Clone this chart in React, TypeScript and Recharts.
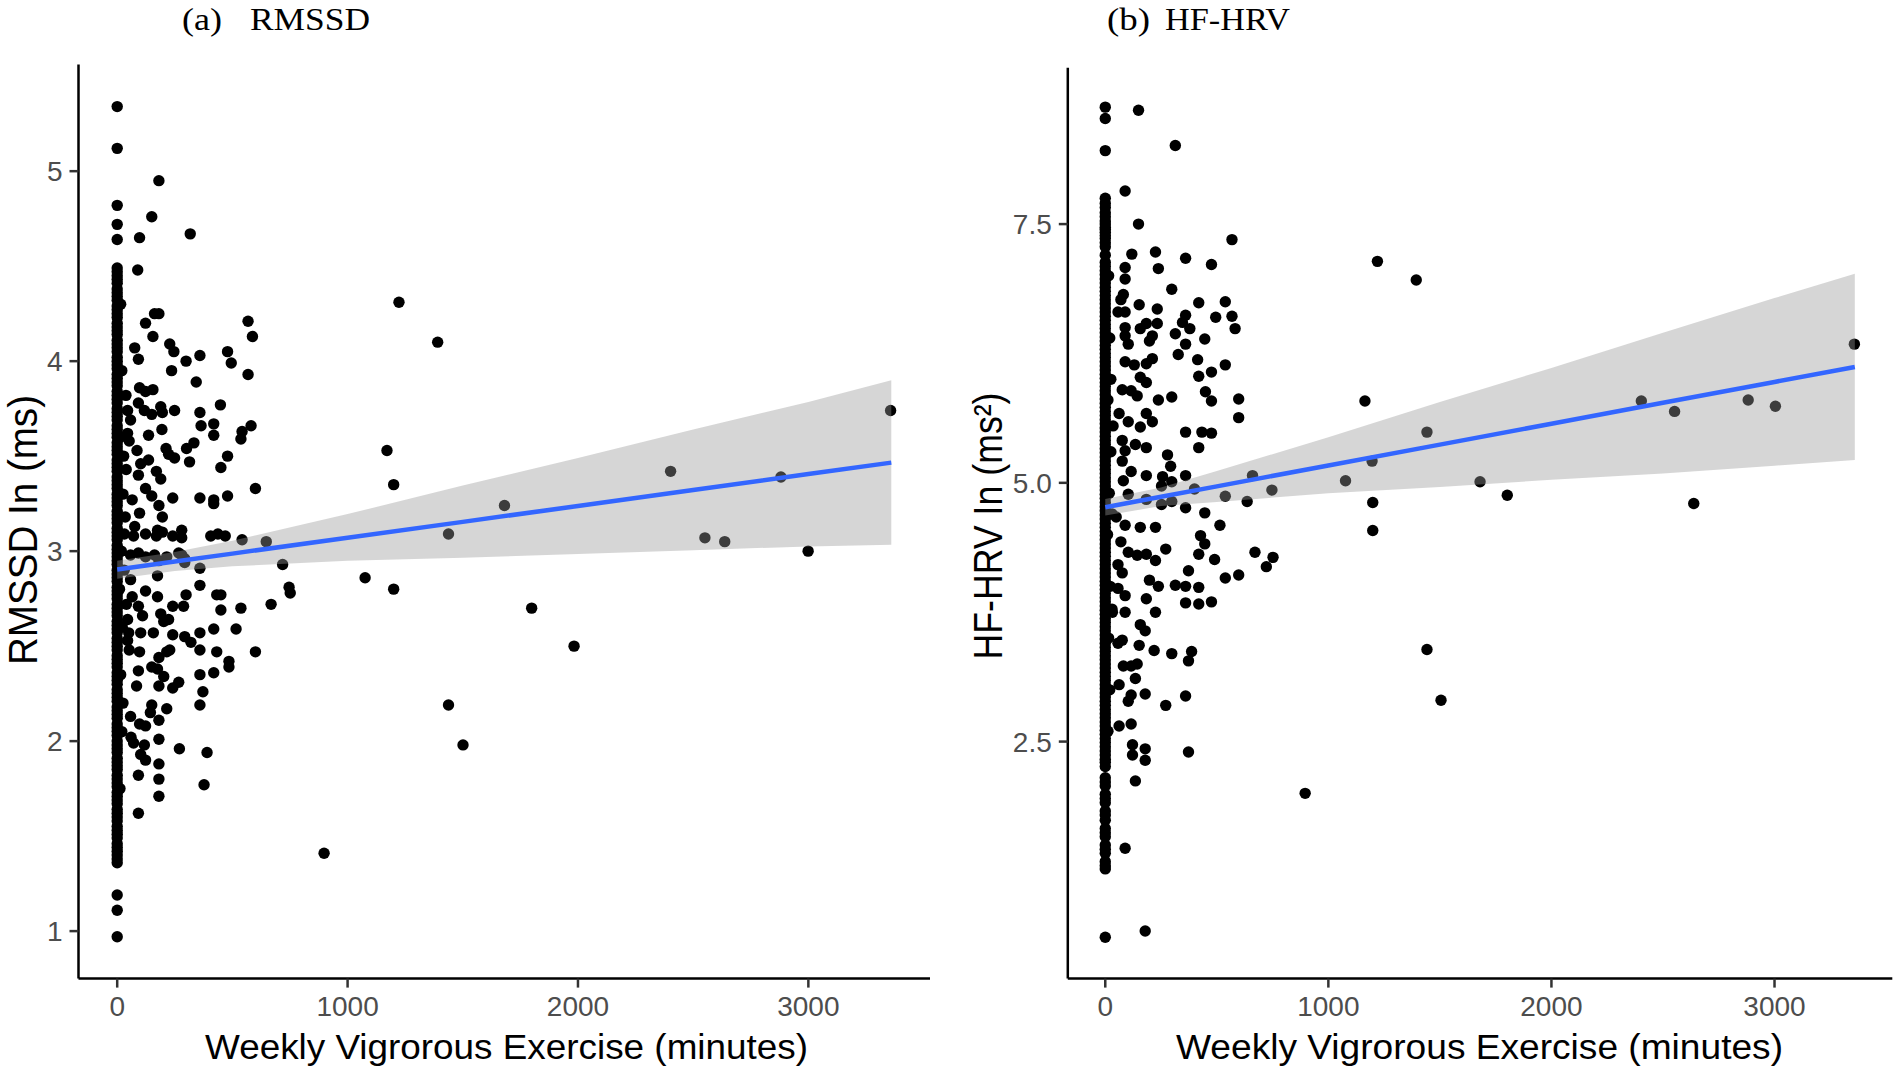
import React from 'react';
import { ComposedChart, Scatter, Area, Line, XAxis, YAxis } from 'recharts';

// shared x axis
const xTicks = [0, 1000, 2000, 3000];
const xDomain: [number, number] = [-168, 3528];

// (a) RMSSD
const rmssdTicks = [1, 2, 3, 4, 5];
const rmssdDomain: [number, number] = [0.75, 5.562];
const rmssdAtZero = [
  5.34, 5.12, 4.82, 4.72, 4.64, 4.49, 4.45, 4.41, 4.36, 4.32, 4.27, 4.23, 4.18, 4.14, 4.09, 4.05,
  4.0, 3.96, 3.91, 3.87, 3.82, 3.78, 3.73, 3.69, 3.64, 3.6, 3.55, 3.51, 3.46, 3.42, 3.37, 3.33,
  3.28, 3.24, 3.19, 3.15, 3.1, 3.06, 3.01, 2.97, 2.93, 2.88, 2.84, 2.79, 2.75, 2.7, 2.66, 2.61,
  2.57, 2.52, 2.48, 2.43, 2.39, 2.34, 2.3, 2.25, 2.21, 2.16, 2.12, 2.07, 2.03, 1.98, 1.94, 1.89,
  1.85, 1.8, 1.76, 1.71, 1.67, 1.62, 1.58, 1.53, 1.49, 1.44, 1.4, 1.36, 1.19, 1.11, 0.97,
];
const rmssdAtZeroFill = [
  4.47, 4.43, 4.38, 4.34, 4.29, 4.25, 4.2, 4.16, 4.11, 4.07, 4.02, 3.98, 3.93, 3.89, 3.84, 3.8,
  3.75, 3.71, 3.66, 3.62, 3.57, 3.53, 3.48, 3.44, 3.39, 3.35, 3.3, 3.26, 3.21, 3.17, 3.12, 3.08,
  3.03, 2.99, 2.95, 2.9, 2.86, 2.81, 2.77, 2.72, 2.68, 2.63, 2.59, 2.54, 2.5, 2.45, 2.41, 2.36,
  2.32, 2.27, 2.23, 2.18, 2.14, 2.09, 2.05, 2.0, 1.96, 1.91, 1.87, 1.82, 1.78, 1.73, 1.69, 1.64,
  1.6, 1.55, 1.51, 1.46, 1.42, 1.38,
];
const rmssdActive: [number, number][] = [
  [181, 4.95], [150, 4.76], [97, 4.65], [317, 4.67], [89, 4.48],
  [162, 4.25], [181, 4.25], [123, 4.2], [155, 4.13], [568, 4.21], [587, 4.13],
  [76, 4.07], [228, 4.09], [246, 4.05], [92, 4.01], [359, 4.03], [479, 4.05], [495, 3.99], [299, 4.0],
  [236, 3.95], [568, 3.93], [343, 3.89], [97, 3.86], [123, 3.84], [155, 3.85], [92, 3.78], [118, 3.74],
  [189, 3.76], [196, 3.73], [249, 3.74], [448, 3.77], [45, 3.74], [58, 3.69], [359, 3.73], [364, 3.66],
  [150, 3.72], [136, 3.61], [194, 3.64], [419, 3.67], [419, 3.61], [542, 3.63], [537, 3.59], [581, 3.66],
  [45, 3.62], [52, 3.58], [333, 3.57], [212, 3.54], [223, 3.51], [301, 3.54], [314, 3.47], [86, 3.53],
  [102, 3.46], [249, 3.49], [479, 3.5], [136, 3.48], [39, 3.43], [170, 3.42], [189, 3.38], [450, 3.44],
  [92, 3.4], [123, 3.33], [150, 3.29], [600, 3.33], [359, 3.28], [419, 3.27], [479, 3.29], [419, 3.25],
  [241, 3.28], [65, 3.27], [97, 3.2], [76, 3.13], [181, 3.24], [196, 3.18], [280, 3.11], [175, 3.11],
  [31, 3.09], [71, 3.08], [123, 3.09], [170, 3.08], [196, 3.1], [241, 3.08], [280, 3.07], [406, 3.08],
  [437, 3.09], [469, 3.08], [542, 3.06], [647, 3.05],
  [58, 2.98], [92, 2.99], [123, 2.97], [162, 2.98], [181, 2.95], [215, 2.97], [267, 2.99], [293, 2.96],
  [718, 2.93], [359, 2.91], [280, 2.98], [293, 2.94], [175, 2.87], [58, 2.85], [359, 2.82], [123, 2.79],
  [746, 2.81], [751, 2.78], [432, 2.77], [450, 2.77], [299, 2.77], [175, 2.76], [65, 2.76], [668, 2.72],
  [537, 2.7], [450, 2.69], [241, 2.71], [288, 2.71], [92, 2.71], [110, 2.66], [189, 2.67], [202, 2.63],
  [45, 2.64], [223, 2.64], [516, 2.59], [359, 2.57], [419, 2.59], [157, 2.57], [50, 2.57], [241, 2.56],
  [293, 2.55], [320, 2.52], [45, 2.53], [102, 2.57], [600, 2.47], [359, 2.48], [432, 2.47], [228, 2.48],
  [215, 2.47], [52, 2.48], [97, 2.47], [181, 2.44], [485, 2.42], [485, 2.39], [150, 2.39], [175, 2.38],
  [359, 2.35], [419, 2.36], [92, 2.37], [202, 2.34], [372, 2.26], [241, 2.28], [267, 2.31], [84, 2.29],
  [181, 2.29], [359, 2.19], [215, 2.17], [150, 2.19], [144, 2.15], [58, 2.13], [97, 2.09], [123, 2.08],
  [181, 2.11], [60, 2.02], [71, 1.99], [181, 2.01], [118, 1.98], [102, 1.93], [123, 1.9], [270, 1.96],
  [390, 1.94], [181, 1.88], [92, 1.82], [181, 1.8], [377, 1.77], [181, 1.71], [92, 1.62],
  [15, 4.3], [20, 3.95], [12, 3.6], [25, 3.3], [18, 3.0], [10, 2.8], [22, 2.6], [15, 2.35], [20, 2.05],
  [12, 1.75], [28, 3.5], [30, 2.9], [25, 2.2], [35, 3.18], [40, 2.72], [38, 3.82],
  [1171, 3.53], [1200, 3.35], [1681, 3.24], [2402, 3.42], [2881, 3.39], [3357, 3.74], [1223, 4.31],
  [1391, 4.1], [1438, 3.09], [2551, 3.07], [2637, 3.05], [2999, 3.0], [1076, 2.86], [1200, 2.8],
  [1799, 2.7], [1983, 2.5], [1438, 2.19], [1501, 1.98], [898, 1.41],
];

// (b) HF-HRV
const hfTicks = [2.5, 5.0, 7.5];
const hfDomain: [number, number] = [0.21, 9.01];
const hfAtZero = [
  8.63, 8.52, 8.21, 7.75, 7.66, 7.61, 7.53, 7.47, 7.42, 7.36, 7.28, 7.13, 7.05, 6.97, 6.89, 6.81,
  6.73, 6.65, 6.57, 6.49, 6.41, 6.33, 6.25, 6.17, 6.09, 6.01, 5.93, 5.85, 5.77, 5.69, 5.61, 5.53,
  5.45, 5.37, 5.29, 5.21, 5.13, 5.05, 4.97, 4.89, 4.81, 4.73, 4.65, 4.57, 4.49, 4.41, 4.33, 4.25,
  4.17, 4.09, 4.01, 3.93, 3.85, 3.77, 3.69, 3.61, 3.53, 3.45, 3.37, 3.29, 3.21, 3.13, 3.05, 2.97,
  2.89, 2.81, 2.73, 2.65, 2.57, 2.49, 2.41, 2.33, 2.26, 2.15, 2.07, 1.99, 1.91, 1.83, 1.74, 1.66,
  1.58, 1.5, 1.42, 1.34, 1.27, 0.61,
];
const hfAtZeroFill = [
  7.7, 7.57, 7.5, 7.45, 7.39, 7.32, 7.2, 7.09, 7.01, 6.93, 6.85, 6.77, 6.69, 6.61, 6.53, 6.45,
  6.37, 6.29, 6.21, 6.13, 6.05, 5.97, 5.89, 5.81, 5.73, 5.65, 5.57, 5.49, 5.41, 5.33, 5.25, 5.17,
  5.09, 5.01, 4.93, 4.85, 4.77, 4.69, 4.61, 4.53, 4.45, 4.37, 4.29, 4.21, 4.13, 4.05, 3.97, 3.89,
  3.81, 3.73, 3.65, 3.57, 3.49, 3.41, 3.33, 3.25, 3.17, 3.09, 3.01, 2.93, 2.85, 2.77, 2.69, 2.61,
  2.53, 2.45, 2.37, 2.3, 2.11, 1.95, 1.79, 1.62, 1.46, 1.3,
];
const hfActive: [number, number][] = [
  [149, 8.6], [314, 8.26], [89, 7.82], [149, 7.5], [568, 7.35], [119, 7.21], [225, 7.23], [360, 7.17],
  [476, 7.11], [238, 7.07], [89, 7.08], [89, 6.97], [298, 6.87], [81, 6.82], [70, 6.77], [419, 6.74],
  [538, 6.75], [152, 6.72], [233, 6.68], [57, 6.65], [89, 6.65], [360, 6.62], [568, 6.61], [495, 6.6],
  [184, 6.54], [233, 6.54], [89, 6.5], [157, 6.49], [346, 6.55], [379, 6.49], [582, 6.49], [314, 6.44],
  [211, 6.42], [198, 6.37], [89, 6.42], [103, 6.34], [446, 6.39], [360, 6.34], [327, 6.24], [414, 6.19],
  [538, 6.14], [211, 6.2], [184, 6.15], [89, 6.17], [130, 6.14], [476, 6.07], [419, 6.03], [157, 6.02],
  [184, 5.97], [76, 5.9], [116, 5.89], [449, 5.88], [476, 5.79], [598, 5.81], [598, 5.63], [298, 5.83],
  [238, 5.8], [143, 5.84], [62, 5.67], [103, 5.59], [184, 5.67], [157, 5.54], [211, 5.59], [360, 5.49],
  [433, 5.49], [476, 5.48], [419, 5.34], [76, 5.41], [89, 5.31], [135, 5.37], [184, 5.34], [279, 5.27],
  [293, 5.16], [76, 5.21], [116, 5.11], [184, 5.07], [257, 5.06], [360, 5.07], [298, 5.01], [252, 4.97],
  [81, 5.02], [400, 4.94],
  [15, 7.0], [20, 6.4], [12, 5.8], [25, 5.3], [18, 4.9], [10, 4.5], [22, 4.0], [15, 3.5], [20, 3.0],
  [12, 2.6], [25, 6.0], [30, 4.7], [35, 5.55], [32, 3.75],
  [1164, 5.79], [1220, 7.14], [1394, 6.96], [1196, 5.21], [1442, 5.49], [1077, 5.02], [660, 5.07],
  [747, 4.93], [538, 4.87], [636, 4.82], [1680, 5.01], [1802, 4.88], [1199, 4.81], [2638, 4.8],
  [2403, 5.79], [2552, 5.69], [2882, 5.8], [3004, 5.74], [3358, 6.34], [1199, 4.54], [1442, 3.39],
  [1505, 2.9], [896, 2.0],
  [360, 4.76], [446, 4.71], [514, 4.59], [427, 4.49], [103, 4.89], [184, 4.84], [252, 4.79], [298, 4.82],
  [49, 4.67], [89, 4.59], [157, 4.57], [225, 4.57], [70, 4.43], [103, 4.33], [143, 4.3], [184, 4.31],
  [225, 4.25], [271, 4.36], [446, 4.41], [419, 4.31], [490, 4.26], [671, 4.33], [752, 4.28], [722, 4.19],
  [598, 4.11], [538, 4.08], [373, 4.15], [76, 4.13], [57, 4.21], [198, 4.06], [238, 4.0], [314, 4.01],
  [360, 4.0], [419, 3.99], [57, 3.98], [89, 3.91], [184, 3.88], [225, 3.75], [360, 3.84], [419, 3.83],
  [476, 3.85], [30, 3.78], [89, 3.75], [157, 3.63], [179, 3.57], [76, 3.48], [57, 3.45], [152, 3.43],
  [219, 3.38], [298, 3.35], [387, 3.37], [373, 3.28], [81, 3.23], [116, 3.23], [143, 3.25], [135, 3.11],
  [62, 3.05], [179, 2.96], [116, 2.95], [103, 2.89], [360, 2.94], [271, 2.85], [62, 2.65], [116, 2.67],
  [122, 2.47], [122, 2.37], [179, 2.43], [179, 2.32], [373, 2.4], [135, 2.12], [89, 1.47], [179, 0.67],
];

// lm fit and confidence band
const bandX = [0, 250, 500, 1000, 1500, 2000, 2500, 3000, 3360];
const rmssdFit = [2.903, 2.945, 2.987, 3.071, 3.154, 3.238, 3.322, 3.406, 3.466];
const rmssdUpper = [2.95, 2.995, 3.055, 3.195, 3.345, 3.49, 3.64, 3.785, 3.9];
const rmssdLower = [2.855, 2.895, 2.92, 2.95, 2.965, 2.985, 3.005, 3.025, 3.033];
const hfFit = [4.764, 4.865, 4.966, 5.168, 5.369, 5.571, 5.773, 5.975, 6.12];
const hfUpper = [4.845, 4.955, 5.115, 5.44, 5.78, 6.11, 6.45, 6.785, 7.02];
const hfLower = [4.685, 4.775, 4.815, 4.9, 4.96, 5.03, 5.09, 5.165, 5.22];

const SANS = '"Liberation Sans", Arial, Helvetica, sans-serif';
const SERIF = '"Liberation Serif", "Times New Roman", serif';
const H = 1069;
const PLOT_BOTTOM = 978.6;

const toPoints = (zeros: number[], active: [number, number][]) => [
  ...zeros.map(y => ({ x: 0, y })),
  ...active.map(([x, y]) => ({ x, y })),
];

const toBand = (fit: number[], lo: number[], hi: number[]) =>
  bandX.map((x, i) => ({ x, fit: fit[i], band: [lo[i], hi[i]] }));

const Dot = (p: any) => <circle cx={p.cx} cy={p.cy} r={5.7} fill="#000" />;

const XTick = (p: any) => (
  <text x={p.x} y={p.y} dy="0.71em" textAnchor="middle" fontSize={28} fill="#4d4d4d" fontFamily={SANS}>
    {p.payload.value}
  </text>
);

const makeYTick = (fmt: (v: number) => string) => (p: any) => (
  <text x={p.x} y={p.y} dy="0.355em" textAnchor="end" fontSize={28} fill="#4d4d4d" fontFamily={SANS}>
    {fmt(p.payload.value)}
  </text>
);

interface PanelProps {
  left: number;
  width: number;
  top: number;
  right: number;
  yAxisWidth: number;
  yDomain: [number, number];
  yTicks: number[];
  yFmt: (v: number) => string;
  points: { x: number; y: number }[];
  band: { x: number; fit: number; band: number[] }[];
}

const Panel: React.FC<PanelProps> = ({ left, width, top, right, yAxisWidth, yDomain, yTicks, yFmt, points, band }) => {
  const xAxisH = 60.4;
  const bottom = H - PLOT_BOTTOM - xAxisH;
  return (
    <>
      <div style={{ position: 'absolute', left, top: 0 }}>
        <ComposedChart width={width} height={H} margin={{ top, right, bottom, left: 0 }}>
          <XAxis
            dataKey="x"
            type="number"
            domain={xDomain}
            ticks={xTicks}
            interval={0}
            allowDataOverflow
            height={xAxisH}
            tickSize={9}
            tickMargin={9}
            axisLine={{ stroke: '#000', strokeWidth: 2.5 }}
            tickLine={{ stroke: '#333', strokeWidth: 2.5 }}
            tick={XTick}
          />
          <YAxis
            dataKey="y"
            type="number"
            domain={yDomain}
            ticks={yTicks}
            interval={0}
            allowDataOverflow
            width={yAxisWidth}
            tickSize={9}
            tickMargin={7}
            axisLine={{ stroke: '#000', strokeWidth: 2.5 }}
            tickLine={{ stroke: '#333', strokeWidth: 2.5 }}
            tick={makeYTick(yFmt)}
          />
          <Scatter data={points} shape={Dot} isAnimationActive={false} />
        </ComposedChart>
      </div>
      {/* smoother drawn over the points, like geom_smooth */}
      <div style={{ position: 'absolute', left, top: 0, pointerEvents: 'none' }}>
        <ComposedChart
          width={width}
          height={H}
          data={band}
          margin={{ top, right, bottom: H - PLOT_BOTTOM, left: yAxisWidth }}
        >
          <XAxis dataKey="x" type="number" domain={xDomain} allowDataOverflow hide />
          <YAxis type="number" domain={yDomain} allowDataOverflow hide />
          <Area
            dataKey="band"
            type="linear"
            stroke="none"
            fill="#999999"
            fillOpacity={0.4}
            isAnimationActive={false}
          />
          <Line dataKey="fit" type="linear" stroke="#3366FF" strokeWidth={4.5} dot={false} isAnimationActive={false} />
        </ComposedChart>
      </div>
    </>
  );
};

export default function App() {
  const rmssdPoints = toPoints([...rmssdAtZero, ...rmssdAtZeroFill], rmssdActive);
  const hfPoints = toPoints([...hfAtZero, ...hfAtZeroFill], hfActive);
  return (
    <div style={{ position: 'absolute', left: 0, top: 0, width: 1894, height: H, background: '#fff', overflow: 'hidden' }}>
      <Panel
        left={0}
        width={940}
        top={64.4}
        right={10}
        yAxisWidth={78.5}
        yDomain={rmssdDomain}
        yTicks={rmssdTicks}
        yFmt={v => String(v)}
        points={rmssdPoints}
        band={toBand(rmssdFit, rmssdLower, rmssdUpper)}
      />
      <Panel
        left={980}
        width={914}
        top={67.8}
        right={1.7}
        yAxisWidth={87.8}
        yDomain={hfDomain}
        yTicks={hfTicks}
        yFmt={v => v.toFixed(1)}
        points={hfPoints}
        band={toBand(hfFit, hfLower, hfUpper)}
      />
      <svg width={1894} height={H} style={{ position: 'absolute', left: 0, top: 0, pointerEvents: 'none' }}>
        <g fontFamily={SERIF} fontSize={32} fill="#000">
          <text x={182} y={30} textLength={40} lengthAdjust="spacingAndGlyphs">(a)</text>
          <text x={250} y={30} textLength={120} lengthAdjust="spacingAndGlyphs">RMSSD</text>
          <text x={1107} y={30} textLength={43} lengthAdjust="spacingAndGlyphs">(b)</text>
          <text x={1165} y={30} textLength={125} lengthAdjust="spacingAndGlyphs">HF-HRV</text>
        </g>
        <g fontFamily={SANS} fontSize={35} fill="#000">
          <text x={205} y={1059} textLength={603} lengthAdjust="spacingAndGlyphs">
            Weekly Vigrorous Exercise (minutes)
          </text>
          <text x={1176} y={1059} textLength={607} lengthAdjust="spacingAndGlyphs">
            Weekly Vigrorous Exercise (minutes)
          </text>
          <text
            transform="translate(37 530) scale(1.05 1) rotate(-90)"
            textAnchor="middle"
            fontSize={38}
            textLength={270}
            lengthAdjust="spacingAndGlyphs"
          >
            RMSSD In (ms)
          </text>
          <text
            transform="translate(1002 526) scale(1.05 1) rotate(-90)"
            textAnchor="middle"
            fontSize={38}
            textLength={267}
            lengthAdjust="spacingAndGlyphs"
          >
            HF-HRV In (ms²)
          </text>
        </g>
      </svg>
    </div>
  );
}
